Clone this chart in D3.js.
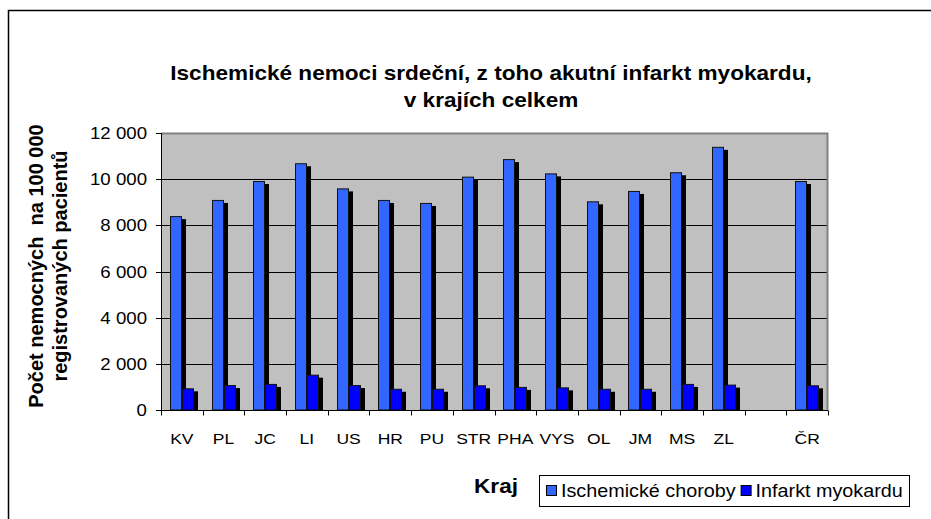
<!DOCTYPE html>
<head>
  <meta charset="utf-8">
  <script src="https://d3js.org/d3.v7.min.js"></script>
  <style>
    body { margin:0; background:#fff; }
    text { font-family: "Liberation Sans", Arial, sans-serif; fill:#000; white-space: pre; }
  </style>
</head>
<body>
<script>
  // data
  var regions = ["KV", "PL", "JC", "LI", "US", "HR", "PU", "STR", "PHA", "VYS", "OL", "JM", "MS", "ZL", "", "ČR"];
  var ischemic = [8400, 9100, 9920, 10690, 9600, 9100, 8970, 10110, 10870, 10250, 9040, 9490, 10300, 11400, null, 9920];
  var infarct  = [940, 1080, 1130, 1530, 1080, 920, 920, 1070, 1000, 980, 920, 920, 1130, 1100, null, 1070];
  var seriesNames = ["Ischemické choroby", "Infarkt myokardu"];
  var seriesColors = ["#3366FF", "#0000FF"];
  var yTicks = [0, 2000, 4000, 6000, 8000, 10000, 12000];

  var width = 931, height = 519;
  var plot = { left: 161, right: 828, top: 133, bottom: 410 };
  var sx = 1.13; // the original picture is a little stretched sideways

  var svg = d3.select("body").append("svg")
    .attr("width", width)
    .attr("height", height);

  // outer frame
  svg.append("rect")
    .attr("x", 8.5).attr("y", 10.5)
    .attr("width", 940).attr("height", 540)
    .attr("fill", "none").attr("stroke", "#000").attr("stroke-width", 1.5);

  var x = d3.scaleBand()
    .domain(d3.range(regions.length))
    .range([plot.left, plot.right]);

  var y = d3.scaleLinear()
    .domain([0, 12000])
    .range([plot.bottom, plot.top]);

  // plot background
  svg.append("rect")
    .attr("x", plot.left).attr("y", plot.top)
    .attr("width", plot.right - plot.left).attr("height", plot.bottom - plot.top)
    .attr("fill", "#C0C0C0");

  // gridlines
  svg.append("g")
    .selectAll("line")
    .data(yTicks.slice(1, -1))
    .enter().append("line")
    .attr("x1", plot.left).attr("x2", plot.right)
    .attr("y1", function(d){ return Math.round(y(d)) + 0.5; })
    .attr("y2", function(d){ return Math.round(y(d)) + 0.5; })
    .attr("stroke", "#000");

  // grey border top and right
  svg.append("path")
    .attr("d", "M" + plot.left + "," + (plot.top + 0.5) + "H" + (plot.right - 0.5) + "V" + plot.bottom)
    .attr("fill", "none").attr("stroke", "#808080").attr("stroke-width", 2);

  // bars
  var barW = 12;
  var data = [];
  regions.forEach(function(r, i){
    if (ischemic[i] != null) data.push({ i: i, s: 0, v: ischemic[i] });
    if (infarct[i] != null) data.push({ i: i, s: 1, v: infarct[i] });
  });

  function bx(d){ return Math.round(x(d.i) + x.bandwidth() / 2 - barW + d.s * barW); }

  var bars = svg.append("g");
  bars.selectAll(".shadow")
    .data(data)
    .enter().append("rect")
    .attr("class", "shadow")
    .attr("x", function(d){ return bx(d) + 4; })
    .attr("y", function(d){ return y(d.v) + 3; })
    .attr("width", barW)
    .attr("height", function(d){ return plot.bottom - y(d.v) - 3; })
    .attr("fill", "#000");

  bars.selectAll(".bar")
    .data(data)
    .enter().append("rect")
    .attr("class", "bar")
    .attr("x", function(d){ return bx(d) + 0.5; })
    .attr("y", function(d){ return y(d.v) + 0.5; })
    .attr("width", barW - 1)
    .attr("height", function(d){ return plot.bottom - y(d.v) - 0.5; })
    .attr("fill", function(d){ return seriesColors[d.s]; })
    .attr("stroke", "#111")
    .attr("stroke-width", 1);

  // y axis
  var fmt = function(d){ return d3.format(",")(d).replace(/,/g, " "); };
  var yg = svg.append("g");
  yg.append("line")
    .attr("x1", plot.left + 0.5).attr("x2", plot.left + 0.5)
    .attr("y1", plot.top).attr("y2", plot.bottom + 0.5)
    .attr("stroke", "#000");
  yg.selectAll(".tk")
    .data(yTicks)
    .enter().append("line")
    .attr("x1", plot.left - 5).attr("x2", plot.left)
    .attr("y1", function(d){ return Math.round(y(d)) + 0.5; })
    .attr("y2", function(d){ return Math.round(y(d)) + 0.5; })
    .attr("stroke", "#000");
  yg.selectAll(".yl")
    .data(yTicks)
    .enter().append("text")
    .attr("transform", function(d){ return "translate(147," + (y(d) + 6) + ") scale(" + sx + ",1)"; })
    .attr("text-anchor", "end")
    .attr("font-size", 16.5)
    .text(fmt);

  // x axis
  var xg = svg.append("g")
    .attr("transform", "translate(0," + (plot.bottom + 0.5) + ")");
  xg.append("line")
    .attr("x1", plot.left - 5).attr("x2", plot.right)
    .attr("stroke", "#000");
  xg.selectAll(".tick")
    .data(d3.range(regions.length + 1))
    .enter().append("line")
    .attr("x1", function(i){ return Math.round(plot.left + i * x.step()) + 0.5; })
    .attr("x2", function(i){ return Math.round(plot.left + i * x.step()) + 0.5; })
    .attr("y1", 0).attr("y2", 5)
    .attr("stroke", "#000");
  xg.selectAll(".lbl")
    .data(regions)
    .enter().append("text")
    .attr("transform", function(d, i){ return "translate(" + (x(i) + x.bandwidth() / 2) + ",33) scale(" + sx + ",1)"; })
    .attr("text-anchor", "middle")
    .attr("font-size", 15.5)
    .text(function(d){ return d; });

  // title
  var title = svg.append("g")
    .attr("font-size", 20)
    .attr("font-weight", "bold");
  title.append("text")
    .attr("transform", "translate(491,80) scale(" + sx + ",1)")
    .attr("text-anchor", "middle")
    .text("Ischemické nemoci srdeční, z toho akutní infarkt myokardu,");
  title.append("text")
    .attr("transform", "translate(491,107) scale(" + sx + ",1)")
    .attr("text-anchor", "middle")
    .text("v krajích celkem");

  // y label
  var ylab = svg.append("text")
    .attr("transform", "translate(0,266) rotate(-90)")
    .attr("text-anchor", "middle")
    .attr("font-size", 20)
    .attr("font-weight", "bold");
  ylab.append("tspan").attr("x", 0).attr("y", 43).text("Počet nemocných  na 100 000");
  ylab.append("tspan").attr("x", 0).attr("y", 67).text("registrovaných pacientů");

  // x label
  svg.append("text")
    .attr("transform", "translate(496,493) scale(" + sx + ",1)")
    .attr("text-anchor", "middle")
    .attr("font-size", 20)
    .attr("font-weight", "bold")
    .text("Kraj");

  // legend
  var leg = svg.append("g");
  leg.append("rect")
    .attr("x", 539.5).attr("y", 475.5)
    .attr("width", 370).attr("height", 31)
    .attr("fill", "#fff").attr("stroke", "#000");
  var lx = 546;
  seriesNames.forEach(function(n, k){
    leg.append("rect")
      .attr("x", lx + 0.5).attr("y", 485.5)
      .attr("width", 10).attr("height", 10)
      .attr("fill", seriesColors[k]).attr("stroke", "#000");
    var t = leg.append("text")
      .attr("transform", "translate(" + (lx + 15) + ",497) scale(" + sx + ",1)")
      .attr("font-size", 17.5)
      .text(n);
    lx = lx + 15 + t.node().getComputedTextLength() * sx + 5;
  });
</script>
</body>
